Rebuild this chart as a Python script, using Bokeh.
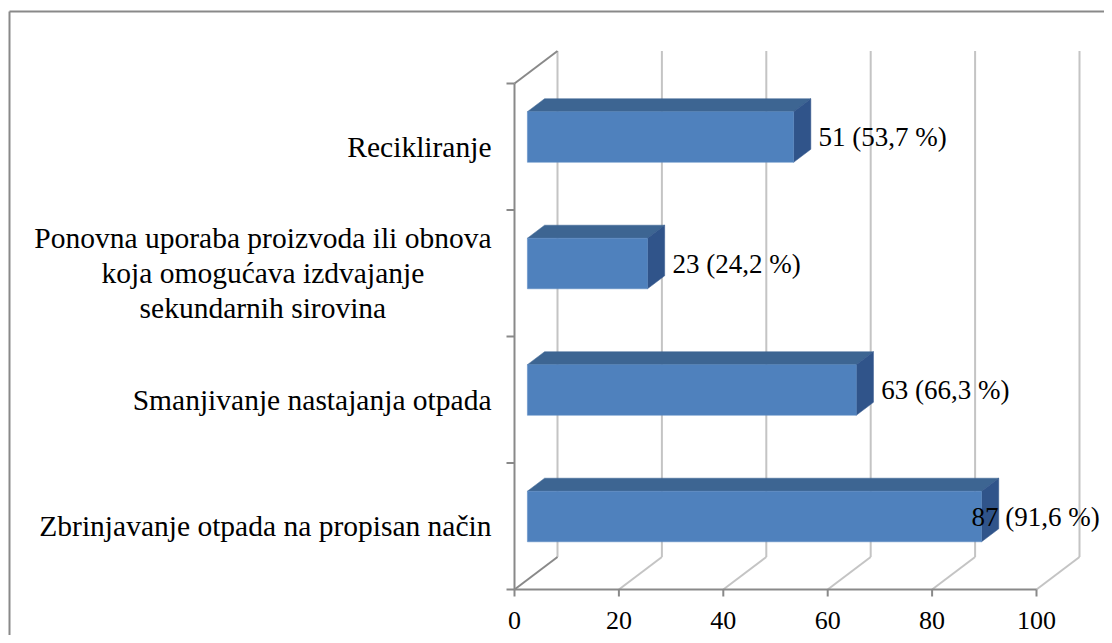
import numpy as np
from bokeh.plotting import figure
from bokeh.models import Range1d
from bokeh.embed import file_html
from bokeh.resources import INLINE
from bokeh.core.properties import value

# ---------------- data ----------------
categories = [
    "Zbrinjavanje otpada na propisan način",
    "Smanjivanje nastajanja otpada",
    "Ponovna uporaba proizvoda ili obnova\nkoja omogućava izdvajanje\nsekundarnih sirovina",
    "Recikliranje",
]
counts = [87, 63, 23, 51]
percents = [91.6, 66.3, 24.2, 53.7]
x_ticks = [0, 20, 40, 60, 80, 100]

# ---------------- geometry ----------------
W, H = 1104, 635
PXX = 5.22          # px per value unit
PXY = 126.5         # px per category
ORIGIN_X = 514      # canvas px of value 0
ORIGIN_YB = H - 589 # canvas px (from bottom) of lower category edge

X0 = -ORIGIN_X / PXX
X1 = X0 + W / PXX
Y0 = -0.5 - ORIGIN_YB / PXY
Y1 = Y0 + H / PXY


def dx(px):
    return px / PXX


def dy(px):
    return px / PXY


DX = dx(43)
DY = dy(32.5)
F0, F1 = 0.30, 0.70
HALF = 0.2
n = len(categories)
ylo, yhi = -0.5, n - 0.5
tmax = x_ticks[-1]

AXIS = "#898989"
GRID = "#C4C4C4"
FRONT = "#4F81BD"
TOP = "#3D6592"
SIDE = "#30548A"
FONT = value("Liberation Serif")

p = figure(width=W, height=H, x_range=Range1d(X0, X1), y_range=Range1d(Y0, Y1),
           x_axis_type=None, y_axis_type=None, toolbar_location=None,
           output_backend="svg", min_border=0)
p.grid.visible = False
p.outline_line_color = None
p.background_fill_color = "white"
p.border_fill_color = "white"

# chart border (left and top edges visible)
p.line([X0 + dx(9), X0 + dx(9)], [Y0, Y1 - dy(11)], line_color=AXIS, line_width=2)
p.line([X0 + dx(9), X1], [Y1 - dy(11), Y1 - dy(11)], line_color=AXIS, line_width=2)

# back wall gridlines and floor diagonals
for t in x_ticks:
    p.line([t + DX, t + DX], [ylo + DY, yhi + DY], line_color=GRID, line_width=2)
    p.line([t, t + DX], [ylo, ylo + DY], line_color=(AXIS if t == 0 else GRID), line_width=2)

# left wall: front axis + top diagonal
p.line([0, 0], [ylo, yhi], line_color=AXIS, line_width=2)
p.line([0, DX], [yhi, yhi + DY], line_color=AXIS, line_width=2)
# bottom front axis
p.line([0, tmax], [ylo, ylo], line_color=AXIS, line_width=2)

# ticks
bounds = np.arange(n + 1) - 0.5
p.segment(x0=[0] * len(bounds), y0=bounds, x1=[-dx(8)] * len(bounds), y1=bounds,
          line_color=AXIS, line_width=2)
p.segment(x0=x_ticks, y0=[ylo] * len(x_ticks), x1=x_ticks, y1=[ylo - dy(7)] * len(x_ticks),
          line_color=AXIS, line_width=2)

# bars
yc = np.arange(n, dtype=float)
vals = np.array(counts, dtype=float)
left = np.full(n, F0 * DX)
right = vals + F0 * DX
bot = yc - HALF + F0 * DY
top = yc + HALF + F0 * DY
ddx = (F1 - F0) * DX
ddy = (F1 - F0) * DY

top_xs = [[l, r, r + ddx, l + ddx] for l, r in zip(left, right)]
top_ys = [[t, t, t + ddy, t + ddy] for t in top]
side_xs = [[r, r, r + ddx, r + ddx] for r in right]
side_ys = [[b, t, t + ddy, b + ddy] for b, t in zip(bot, top)]

p.patches(top_xs, top_ys, fill_color=TOP, line_color=TOP, line_width=0.5)
p.patches(side_xs, side_ys, fill_color=SIDE, line_color=SIDE, line_width=0.5)
p.quad(left=left, right=right, bottom=bot, top=top, fill_color=FRONT,
       line_color="#5A8AC4", line_width=0.5)

# value labels
labels = [f"{c} ({str(pc).replace('.', ',')} %)" for c, pc in zip(counts, percents)]
LABEL_MAX = dx(971 - 514)
lab_x = np.minimum(right + dx(25), LABEL_MAX)
p.text(x=lab_x, y=yc + F0 * DY, text=labels, text_font=FONT, text_font_size="27px",
       text_color="black", text_align="left", text_baseline="middle")

# category labels
p.text(x=[-dx(23)] * n, y=yc, text=categories, text_font=FONT, text_font_size="29.5px",
       text_color="black", text_align="center", anchor="center_right",
       text_baseline="middle", text_line_height=1.1)

# x tick labels
p.text(x=x_ticks, y=[ylo - dy(31)] * len(x_ticks), text=[str(t) for t in x_ticks],
       text_font=FONT, text_font_size="26px", text_color="black",
       text_align="center", text_baseline="middle")

open("out.html", "w").write(file_html(p, INLINE))
